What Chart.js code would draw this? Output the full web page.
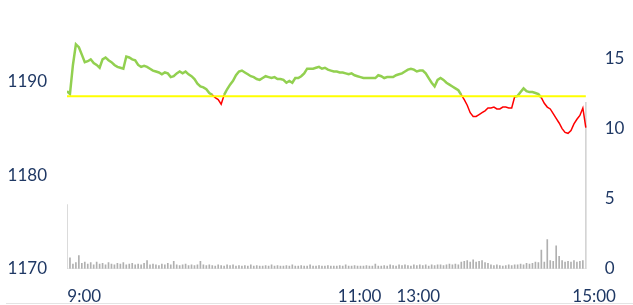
<!DOCTYPE html>
<html>
<head>
<meta charset="utf-8">
<script src="https://cdn.jsdelivr.net/npm/chart.js@4.4.0/dist/chart.umd.min.js"></script>
<style>
  html, body { margin: 0; padding: 0; background: #fff; }
  #wrap { position: relative; width: 633px; height: 305px; }
  #bottomRule { position: absolute; left: 6px; right: 0; top: 303px; height: 1px; background: #e4e4e4; }
</style>
</head>
<body>
<div id="wrap">
  <canvas id="chart" width="633" height="305"></canvas>
  <div id="bottomRule"></div>
</div>
<script>
// reference (previous close) level
const REF_PRICE = 1188.45;

// price, one sample every ~1.7 min of the session
const PRICES = [
  1189.0, 1188.7, 1191.8, 1194.0, 1193.7, 1192.9, 1192.1, 1192.2, 1192.4, 1192.0, 1191.8, 1191.5,
  1192.4, 1192.6, 1192.3, 1192.1, 1191.8, 1191.6, 1191.5, 1191.4, 1192.7, 1192.6, 1192.4, 1192.3,
  1191.8, 1191.6, 1191.7, 1191.6, 1191.4, 1191.2, 1191.1, 1191.0, 1190.8, 1191.0, 1190.9, 1190.5,
  1190.6, 1190.9, 1191.1, 1190.9, 1191.1, 1190.8, 1190.6, 1190.3, 1189.8, 1189.5, 1189.4, 1189.2,
  1188.8, 1188.6, 1188.3, 1188.1, 1187.6, 1188.6, 1189.2, 1189.7, 1190.1, 1190.7, 1191.1, 1191.2,
  1191.0, 1190.8, 1190.6, 1190.5, 1190.3, 1190.2, 1190.4, 1190.6, 1190.5, 1190.4, 1190.5, 1190.3,
  1190.3, 1190.2, 1189.9, 1190.1, 1189.9, 1190.4, 1190.4, 1190.6, 1190.9, 1191.4, 1191.4, 1191.4,
  1191.5, 1191.6, 1191.4, 1191.5, 1191.3, 1191.2, 1191.1, 1191.1, 1191.0, 1191.0, 1190.9, 1190.8,
  1190.9, 1190.7, 1190.6, 1190.5, 1190.4, 1190.4, 1190.4, 1190.4, 1190.4, 1190.7, 1190.6, 1190.4,
  1190.5, 1190.5, 1190.5, 1190.7, 1190.8, 1190.9, 1191.1, 1191.3, 1191.4, 1191.3, 1191.1, 1191.2,
  1191.2, 1190.9, 1190.4, 1189.9, 1189.5, 1190.2, 1190.4, 1190.2, 1189.9, 1189.7, 1189.5, 1189.3,
  1189.1, 1188.6, 1188.1, 1187.5, 1186.7, 1186.3, 1186.3, 1186.5, 1186.7, 1186.9, 1187.2, 1187.2,
  1187.3, 1187.1, 1187.1, 1187.3, 1187.3, 1187.2, 1187.2, 1188.4, 1188.5, 1188.9, 1189.3, 1189.0,
  1188.9, 1188.9, 1188.8, 1188.7, 1188.3, 1187.7, 1187.3, 1187.1, 1186.6, 1186.1, 1185.6, 1185.0,
  1184.6, 1184.5, 1184.8, 1185.5, 1186.0, 1186.4, 1187.2, 1185.1
];

// volume for the same samples (right axis)
const VOLUMES = [
  4.6, 0.8, 0.35, 0.45, 0.95, 0.4, 0.5, 0.35, 0.45, 0.3, 0.5, 0.35,
  0.4, 0.3, 0.45, 0.35, 0.3, 0.4, 0.35, 0.45, 0.3, 0.35, 0.4, 0.3,
  0.35, 0.3, 0.4, 0.6, 0.3, 0.35, 0.3, 0.25, 0.35, 0.3, 0.4, 0.3,
  0.55, 0.3, 0.25, 0.3, 0.35, 0.25, 0.3, 0.25, 0.3, 0.55, 0.3, 0.25,
  0.3, 0.25, 0.2, 0.3, 0.25, 0.2, 0.3, 0.25, 0.3, 0.2, 0.25, 0.2,
  0.25, 0.2, 0.3, 0.2, 0.25, 0.2, 0.2, 0.25, 0.2, 0.3, 0.2, 0.25,
  0.2, 0.2, 0.25, 0.2, 0.3, 0.2, 0.2, 0.25, 0.2, 0.2, 0.3, 0.2,
  0.2, 0.25, 0.2, 0.2, 0.25, 0.2, 0.2, 0.2, 0.25, 0.2, 0.3, 0.2,
  0.2, 0.25, 0.2, 0.2, 0.2, 0.25, 0.2, 0.2, 0.35, 0.2, 0.2, 0.25,
  0.2, 0.3, 0.25, 0.2, 0.3, 0.25, 0.3, 0.25, 0.2, 0.3, 0.25, 0.3,
  0.25, 0.3, 0.2, 0.3, 0.25, 0.3, 0.3, 0.25, 0.3, 0.35, 0.3, 0.35,
  0.3, 0.5, 0.55, 0.6, 0.5, 0.65, 0.5, 0.55, 0.6, 0.45, 0.4, 0.3,
  0.25, 0.3, 0.25, 0.2, 0.25, 0.3, 0.25, 0.3, 0.3, 0.35, 0.3, 0.4,
  0.35, 0.4, 0.5, 0.45, 1.35, 0.5, 2.1, 0.6, 0.55, 1.65, 0.9, 0.6,
  0.5, 0.55, 0.5, 0.6, 0.5, 0.55, 0.6, 11.9
];

const X_TICKS = [5.8, 98.7, 118.5, 177.8];
const X_LABELS = ['9:00', '11:00', '13:00', '15:00'];
const PRICE_TICKS = [1170, 1180, 1190];
const VOLUME_TICKS = [0, 5, 10, 15];

const GREEN = '#92D050';
const RED = '#FF0000';
const LABEL_COLOR = '#1F3864';

Chart.defaults.font.family = 'Lato, "Open Sans", sans-serif';
Chart.defaults.font.size = 17;
Chart.defaults.color = LABEL_COLOR;

const last = PRICES.length - 1;
const below = ctx => (ctx.p0.parsed.y + ctx.p1.parsed.y) / 2 < REF_PRICE;

new Chart(document.getElementById('chart'), {
    type: 'line',
    data: {
        datasets: [
            {
                label: 'ref',
                data: [{ x: 0, y: REF_PRICE }, { x: last, y: REF_PRICE }],
                borderColor: '#FFFF00',
                borderWidth: 2,
                pointRadius: 0,
                yAxisID: 'y',
                order: 0
            },
            {
                label: 'price',
                data: PRICES.map((p, i) => ({ x: i, y: p })),
                borderColor: GREEN,
                borderWidth: 2.5,
                pointRadius: 0,
                tension: 0,
                yAxisID: 'y',
                order: 1,
                segment: {
                    borderColor: ctx => below(ctx) ? RED : GREEN,
                    borderWidth: ctx => below(ctx) ? 1.5 : 2.5
                }
            },
            {
                label: 'base',
                data: [{ x: 0, y: 0 }, { x: last, y: 0 }],
                borderColor: '#d9d9d9',
                borderWidth: 1,
                pointRadius: 0,
                yAxisID: 'y2',
                order: 2
            },
            {
                type: 'bar',
                label: 'volume',
                data: VOLUMES.map((v, i) => ({ x: i, y: v })),
                backgroundColor: VOLUMES.map(v => v > 3 ? '#d4d4d4' : '#b0b0b0'),
                barThickness: 1,
                yAxisID: 'y2',
                order: 3
            }
        ]
    },
    options: {
        responsive: false,
        animation: false,
        devicePixelRatio: 1,
        layout: { padding: { top: 35, left: 0, right: 0, bottom: 0 } },
        plugins: { legend: { display: false }, tooltip: { enabled: false } },
        scales: {
            x: {
                type: 'linear',
                min: 0,
                max: 178,
                offset: false,
                grid: { display: false, drawTicks: false },
                border: { display: false },
                afterBuildTicks: s => { s.ticks = X_TICKS.map(v => ({ value: v })); },
                afterFit: s => { s.height = 36; },
                ticks: {
                    autoSkip: false,
                    maxRotation: 0,
                    padding: 17,
                    callback: (v, i) => X_LABELS[i]
                }
            },
            y: {
                position: 'left',
                min: 1170,
                max: 1195,
                grid: { display: false, drawTicks: false },
                border: { display: false },
                afterBuildTicks: s => { s.ticks = PRICE_TICKS.map(v => ({ value: v })); },
                afterFit: s => { s.width = 67; },
                ticks: { padding: 20, callback: v => String(v) }
            },
            y2: {
                position: 'right',
                min: 0,
                max: 234 / 14,
                grid: { display: false, drawTicks: false },
                border: { display: false },
                afterBuildTicks: s => { s.ticks = VOLUME_TICKS.map(v => ({ value: v })); },
                afterFit: s => { s.width = 32; },
                ticks: { padding: 10, callback: v => String(v) }
            }
        }
    }
});
</script>
</body>
</html>
